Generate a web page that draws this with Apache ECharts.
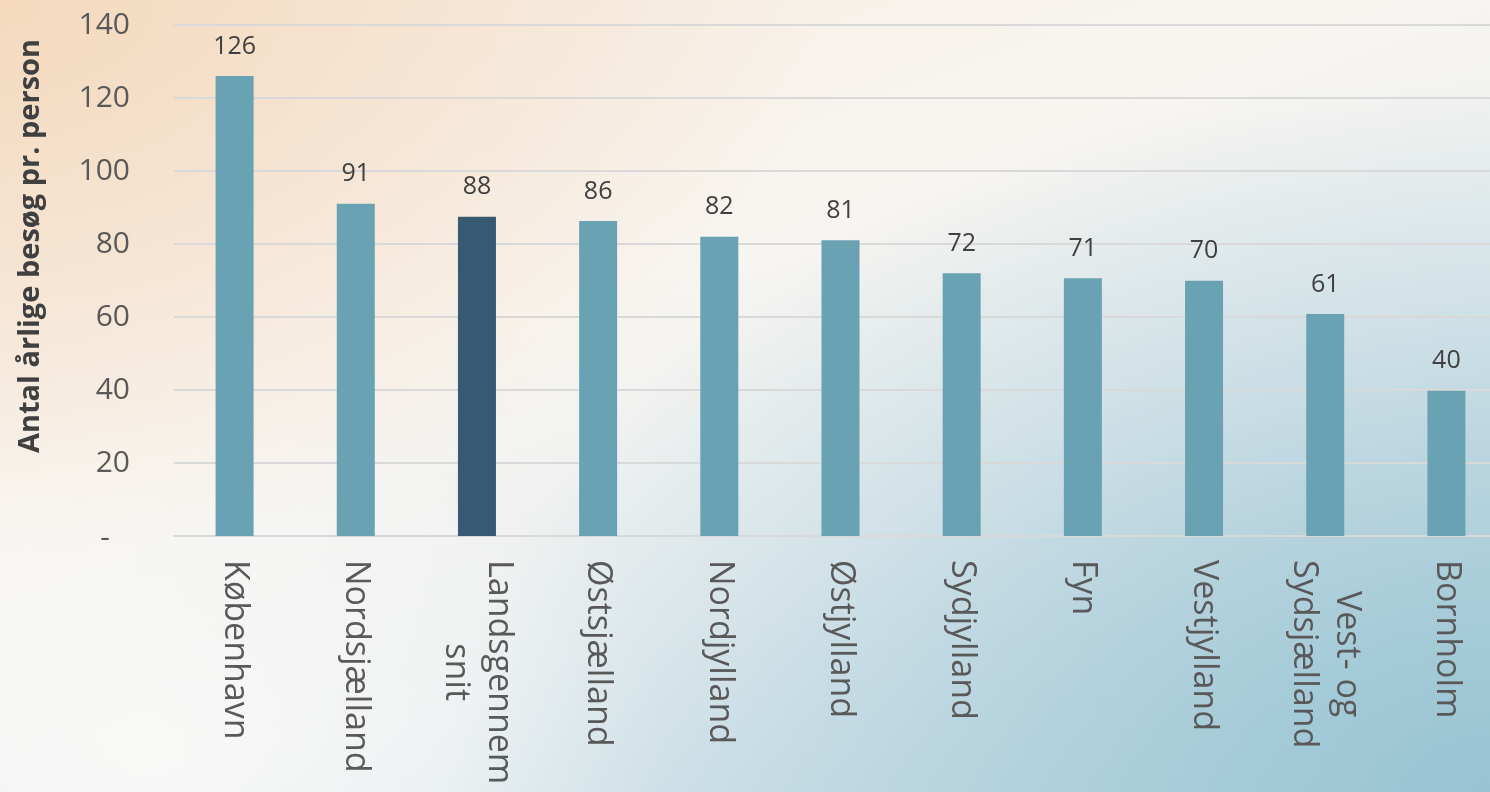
<!DOCTYPE html>
<html>
<head>
<meta charset="utf-8">
<script src="https://cdn.jsdelivr.net/npm/echarts@6/dist/echarts.min.js"></script>
<style>
  html, body { margin: 0; padding: 0; width: 1490px; height: 792px; overflow: hidden; }
  body {
    background:
      radial-gradient(ellipse 55% 70% at 0% 0%, rgba(244, 214, 184, 0.85), rgba(244, 214, 184, 0) 100%),
      radial-gradient(ellipse 70% 90% at 100% 100%, rgba(150, 194, 210, 0.95), rgba(150, 194, 210, 0) 100%),
      radial-gradient(ellipse 35% 45% at 10% 95%, rgba(252, 251, 249, 0.8), rgba(252, 251, 249, 0) 100%),
      linear-gradient(160deg, #f6ebdf 0%, #f8f5f1 38%, #e9eef0 65%, #c3dbe4 100%);
  }
  #chart { width: 1507px; height: 792px; }
</style>
</head>
<body>
<div id="chart"></div>
<script>
// kategorier og værdier (årlige besøg pr. person)
const regions = ['København', 'Nordsjælland', 'Landsgennem\nsnit', 'Østsjælland', 'Nordjylland',
  'Østjylland', 'Sydjylland', 'Fyn', 'Vestjylland', 'Vest- og\nSydsjælland', 'Bornholm']
const visits = [126, 91, 87.5, 86.3, 82, 81, 72, 70.6, 69.9, 60.8, 39.8]
const highlight = 'Landsgennem\nsnit'
const yTicks = { min: 0, max: 140, interval: 20 }

const font = '"Open Sans", sans-serif'
const catSize = 34

const chart = echarts.init(document.getElementById('chart'))

chart.setOption({
  backgroundColor: 'transparent',
  animation: false,
  grid: { left: 174, right: 0, top: 25, bottom: 256, containLabel: false },
  graphic: [{
    type: 'text',
    x: 31, y: 246,
    rotation: Math.PI / 2,
    style: {
      text: 'Antal årlige besøg pr. person',
      font: 'bold 29px "Open Sans", sans-serif',
      fill: '#404040',
      align: 'center',
      verticalAlign: 'middle'
    }
  }],
  xAxis: {
    type: 'category',
    data: regions,
    axisLine: { show: true, lineStyle: { color: '#d9d9d9', width: 2 } },
    axisTick: { show: false },
    axisLabel: {
      rotate: -90,
      margin: 24,
      interval: 0,
      color: '#595959',
      fontFamily: font,
      fontSize: catSize,
      lineHeight: 43,
      // hver linje centreres i blokken
      formatter: v => v.split('\n').map(s => '{c|' + s + '}').join('\n'),
      rich: { c: { align: 'center', fontFamily: font, fontSize: catSize, color: '#595959', lineHeight: 43 } }
    }
  },
  yAxis: {
    type: 'value',
    min: yTicks.min,
    max: yTicks.max,
    interval: yTicks.interval,
    axisLine: { show: false },
    axisTick: { show: false },
    splitLine: { lineStyle: { color: '#d9d9d9', width: 2 } },
    axisLabel: {
      margin: 44,
      color: '#595959',
      fontFamily: font,
      fontSize: 30,
      formatter: v => v === 0 ? '{z|-}' : String(v),
      rich: { z: { padding: [4, 20, 0, 0], fontFamily: font, fontSize: 30, color: '#595959' } }
    }
  },
  series: [{
    type: 'bar',
    barWidth: 38,
    data: visits.map((v, i) => ({
      value: v,
      itemStyle: { color: regions[i] === highlight ? '#375a72' : '#69a2b2' }
    })),
    label: {
      show: true,
      position: 'top',
      distance: 17,
      color: '#404040',
      fontFamily: font,
      fontSize: 25,
      formatter: p => Math.round(p.value)
    }
  }]
})
</script>
</body>
</html>
